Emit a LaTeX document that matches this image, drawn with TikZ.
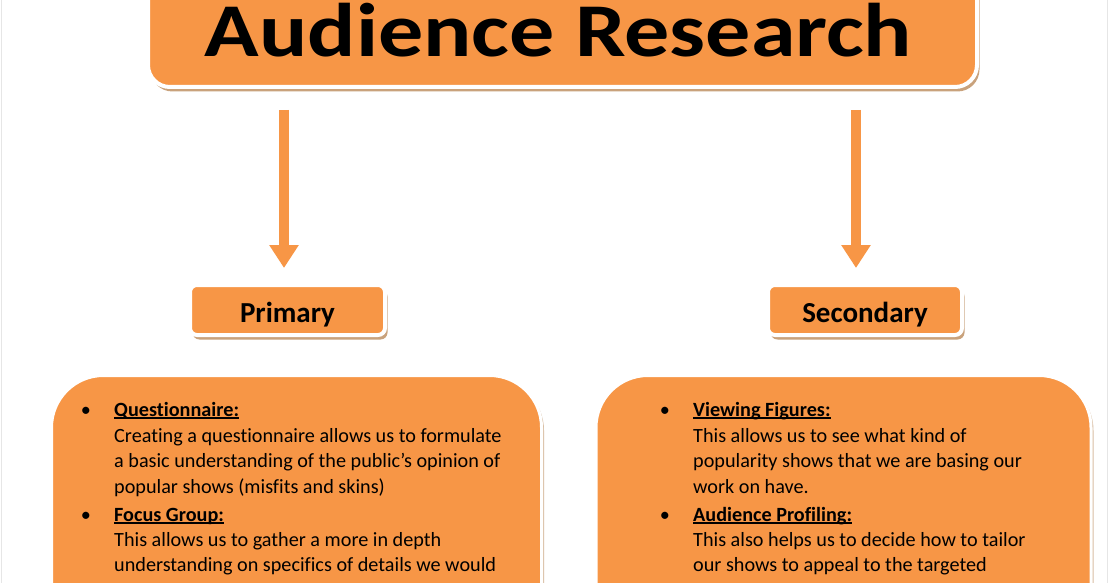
\documentclass[tikz,border=0pt]{standalone}
\usepackage{fontspec}
\setmainfont{Carlito}[Ligatures=NoCommon]
\usetikzlibrary{arrows.meta,shadows}
\definecolor{org}{HTML}{F79646}
\definecolor{shd}{HTML}{C9A27C}
\definecolor{pageline}{HTML}{E6E6E6}
\newcommand{\myul}[1]{\setbox0\hbox{#1}\rlap{\rule[-2.6pt]{\wd0}{1.3pt}}\box0}
\begin{document}
\begin{tikzpicture}[x=1pt,y=-1pt,
  box/.style={draw=white, line width=4pt, fill=org, rectangle, inner sep=0pt,
    drop shadow={shadow xshift=2.5pt, shadow yshift=-4.5pt, fill=shd, opacity=1}},
  bigbox/.style={draw=white, line width=3pt, fill=org, rectangle, inner sep=0pt,
    rounded corners=52pt,
    drop shadow={shadow xshift=2.5pt, shadow yshift=-3pt, fill=shd!70!white, opacity=1}},
  arr/.style={draw=org, line width=10pt, -{Triangle[width=28pt,length=23pt]}},
  lbl/.style={font=\bfseries\fontsize{29}{29}\selectfont, text height=24pt, text depth=0pt},
  body/.style={font=\fontsize{20.2}{24}\selectfont, anchor=base west, inner sep=0pt},
  head/.style={font=\bfseries\fontsize{20.2}{24}\selectfont, anchor=base west, inner sep=0pt},
  bul/.style={font=\fontsize{20.2}{24}\selectfont, anchor=base, inner sep=0pt}]
\clip (0,0) rectangle (1112,583);
\fill[white] (0,0) rectangle (1112,583);
\draw[pageline, line width=1pt] (1.5,0) -- (1.5,583);
\draw[pageline, line width=1pt] (1107.5,0) -- (1107.5,583);

% title
\node[box, rounded corners=22pt, minimum width=829pt, minimum height=117pt] (title) at (562.5,28.5) {};
\node[font=\bfseries\fontsize{76}{76}\selectfont, anchor=base, inner sep=0pt, xscale=1.185,
  text height=52pt, text depth=0pt] (titletext) at (558.5,57) {Audience Research};

% arrows
\coordinate (a1s) at (284,110);
\coordinate (a1e) at (284,268);
\coordinate (a2s) at (856,110);
\coordinate (a2e) at (856,268);
\draw[arr] (a1s) -- (a1e);
\draw[arr] (a2s) -- (a2e);

% labels
\node[box, lbl, rounded corners=7pt, minimum width=195pt, minimum height=50pt] (primary) at (287.5,310) {Primary};
\node[box, lbl, rounded corners=7pt, minimum width=194pt, minimum height=50pt] (secondary) at (865,310) {Secondary};

% content boxes
\node[bigbox, minimum width=490pt, minimum height=330pt] (lbox) at (296.5,540.5) {};
\node[bigbox, minimum width=495pt, minimum height=330pt] (rbox) at (843.5,540.5) {};

% left text
\node[bul] (lb1) at (86,416) {•};
\node[head] (lh1) at (114,416) {\myul{Questionnaire:}};
\node[body] (ll1) at (114,442) {Creating a questionnaire allows us to formulate};
\node[body] (ll2) at (114,467) {a basic understanding of the public’s opinion of};
\node[body] (ll3) at (114,493) {popular shows (misfits and skins)};
\node[bul] (lb2) at (86,521) {•};
\node[head] (lh2) at (114,521) {\myul{Focus Group:}};
\node[body] (ll4) at (114,546) {This allows us to gather a more in depth};
\node[body] (ll5) at (114,571) {understanding on specifics of details we would};

% right text
\node[bul] (rb1) at (665,416) {•};
\node[head] (rh1) at (693,416) {\myul{Viewing Figures:}};
\node[body] (rl1) at (693,442) {This allows us to see what kind of};
\node[body] (rl2) at (693,467) {popularity shows that we are basing our};
\node[body] (rl3) at (693,493) {work on have.};
\node[bul] (rb2) at (665,521) {•};
\node[head] (rh2) at (693,521) {\myul{Audience Profiling:}};
\node[body] (rl4) at (693,546) {This also helps us to decide how to tailor};
\node[body] (rl5) at (693,571) {our shows to appeal to the targeted};
\end{tikzpicture}
\end{document}
